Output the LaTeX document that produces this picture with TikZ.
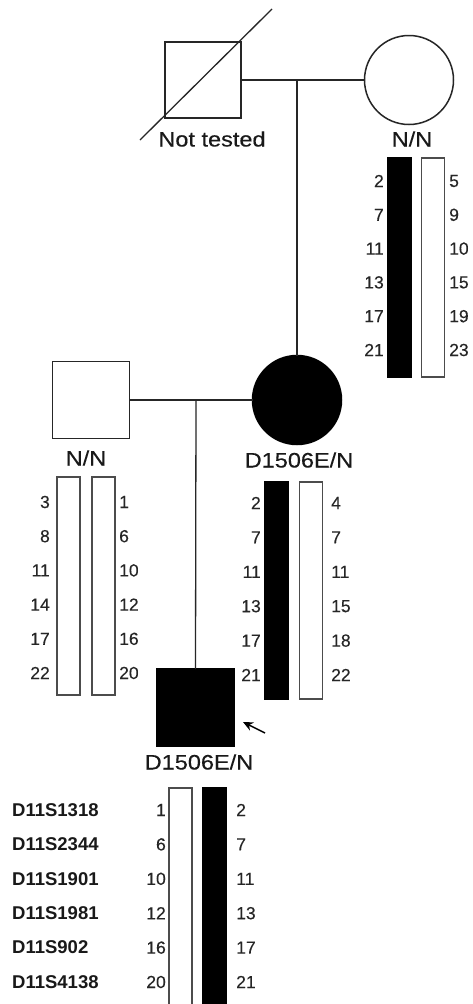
\documentclass[tikz,border=0pt]{standalone}
\usepackage{fontspec}
\setmainfont{Liberation Sans}
\newfontfamily\labfont[FakeStretch=1.12,FakeBold=0.3]{Liberation Sans}
\newfontfamily\numfont[FakeBold=0.2]{Liberation Sans}
\usetikzlibrary{arrows.meta}
\tikzset{
  ped/.style={draw=black!85, line width=1.5pt, inner sep=0pt, outer sep=0pt},
  sq/.style={ped, rectangle, minimum size=76pt},
  circ/.style={ped, circle, minimum size=89pt},
  aff/.style={fill=black, draw=black},
  link/.style={draw=black!85, line width=1.3pt},
  lab/.style={font=\labfont\fontsize{21}{21}\selectfont, inner sep=0pt, text=black!90},
  num/.style={font=\numfont\fontsize{17.5}{17.5}\selectfont, inner sep=0pt, text=black!85},
  numL/.style={num, anchor=east},
  numR/.style={num, anchor=west},
  marker/.style={font=\bfseries\fontsize{18.5}{18.5}\selectfont, inner sep=0pt, anchor=west, text=black!90},
  chr/.style={rectangle, inner sep=0pt, outer sep=0pt, minimum width=23pt, line width=1.2pt},
  chrW/.style={chr, draw=black!70, fill=white},
  chrB/.style={chr, draw=black, fill=black},
}
\begin{document}
\begin{tikzpicture}[x=1pt,y=-1pt]
\useasboundingbox[fill=white] (0,0) rectangle (473,1004);

% generation I
\node[sq] (f) at (203,80) {};
\coordinate (s1) at (140,140);
\coordinate (s2) at (272,9);
\draw[link] (s1) -- (s2);
\node[circ] (m) at (409,80) {};
\draw[link] (f.east) -- (m.west);
\coordinate (j1) at (297,80);
\node[lab] (nt) at (212,139) {Not tested};
\node[lab] (mg) at (412,139) {N/N};

\node[chrB, minimum height=219pt] (mb) at (399.5,267.5) {};
\node[chrW, minimum height=219pt] (mw) at (433,267.5) {};
\foreach \a/\b [count=\i from 0] in {2/5,7/9,11/10,13/15,17/19,21/23}{
  \node[numL] (ml\i) at (384,{181+33.8*\i}) {\a};
  \node[numR] (mr\i) at (449,{181+33.8*\i}) {\b};
}

% generation II
\node[sq, minimum size=77pt] (h) at (91,400) {};
\node[circ, aff] (d) at (297,400) {};
\draw[link] (j1) -- (d.north);
\draw[link] (h.east) -- (d.west);
\coordinate (j2) at (196,400);
\node[lab] (hg) at (86,458) {N/N};
\node[lab] (dg) at (299,460) {D1506E/N};

\node[chrW, minimum height=218pt] (hb1) at (68.5,586) {};
\node[chrW, minimum height=218pt] (hb2) at (103.5,586) {};
\foreach \a/\b [count=\i from 0] in {3/1,8/6,11/10,14/12,17/16,22/20}{
  \node[numL] (hl\i) at (50,{502+34.2*\i}) {\a};
  \node[numR] (hr\i) at (119,{502+34.2*\i}) {\b};
}

\node[chrB, minimum height=217pt] (db) at (276.5,590.5) {};
\node[chrW, minimum height=217pt] (dw) at (311,590.5) {};
\foreach \a/\b [count=\i from 0] in {2/4,7/7,11/11,13/15,17/18,21/22}{
  \node[numL] (dl\i) at (261,{503+34.4*\i}) {\a};
  \node[numR] (dr\i) at (331,{503+34.4*\i}) {\b};
}

% generation III
\node[sq, aff, minimum size=77pt] (c) at (195.5,707.5) {};
\draw[link] (j2) -- (c.north);
\coordinate (a1) at (265,733);
\coordinate (a2) at (243,722);
\draw[line width=1.5pt, -{Stealth[length=10pt,width=9pt]}] (a1) -- (a2);
\node[lab] (cg) at (199,762) {D1506E/N};

\node[chrW, minimum height=224pt] (cw) at (180.5,900) {};
\node[chrB, minimum height=224pt] (cb) at (214.5,900) {};
\foreach \m/\a/\b [count=\i from 0] in {D11S1318/1/2,D11S2344/6/7,D11S1901/10/11,D11S1981/12/13,D11S902/16/17,D11S4138/20/21}{
  \node[marker] (k\i) at (12,{810+34.4*\i}) {\m};
  \node[numL] (cl\i) at (166,{810+34.4*\i}) {\a};
  \node[numR] (cr\i) at (236,{810+34.4*\i}) {\b};
}
\end{tikzpicture}
\end{document}
